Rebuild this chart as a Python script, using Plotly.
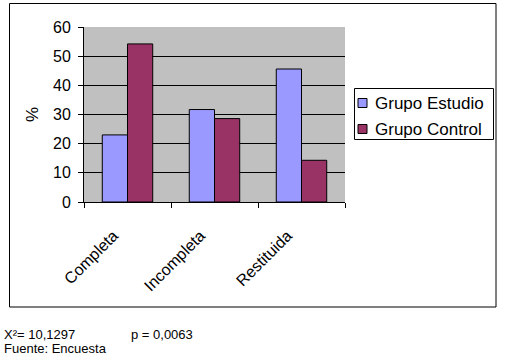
import plotly.graph_objects as go

categories = ["Completa", "Incompleta", "Restituida"]
grupo_estudio = [23.0, 31.7, 45.6]
grupo_control = [54.2, 28.6, 14.3]
series_names = ["Grupo Estudio", "Grupo Control"]
series_colors = ["#9999FF", "#993366"]
y_ticks = [0, 10, 20, 30, 40, 50, 60]

FONT = "Liberation Sans, Arial, sans-serif"

fig = go.Figure()
for name, vals, col in zip(series_names, [grupo_estudio, grupo_control], series_colors):
    fig.add_trace(go.Bar(x=categories, y=vals, name=name, showlegend=False,
                         marker=dict(color=col, line=dict(color="black", width=1))))

L, R, T, B = 84, 345, 27, 202
W, H = 505, 357
pw, ph = R - L, B - T

def px(x):
    return (x - L) / pw

def py(y):
    return (B - y) / ph

fig.update_layout(
    width=W, height=H,
    margin=dict(l=L, r=W - R, t=T, b=H - B, autoexpand=False),
    paper_bgcolor="white", plot_bgcolor="#C0C0C0",
    font=dict(family=FONT, size=16, color="black"),
    barmode="group", bargap=0.42, bargroupgap=0.0,
    xaxis=dict(showgrid=False, showline=True, linecolor="black", linewidth=1,
               ticks="outside", ticklen=5, tickcolor="black", tickson="boundaries",
               tickangle=-45, tickfont=dict(size=16, family=FONT),
               ticklabelstandoff=17, ticklabelshift=-14),
    yaxis=dict(range=[0, 60], tickvals=y_ticks, showgrid=True, gridcolor="black",
               gridwidth=1, showline=True, linecolor="black", linewidth=1,
               ticks="outside", ticklen=5, tickcolor="black", zeroline=False,
               tickfont=dict(size=16, family=FONT), ticklabelstandoff=4,
               title=dict(text="%", font=dict(size=17, family=FONT), standoff=10)),
)

# outer chart border
fig.add_shape(type="rect", xref="paper", yref="paper",
              x0=px(9.5), x1=px(496), y0=py(307), y1=py(3.5),
              line=dict(color="black", width=1), fillcolor="rgba(0,0,0,0)", layer="below")

# legend box
fig.add_shape(type="rect", xref="paper", yref="paper",
              x0=px(354.5), x1=px(493.5), y0=py(139.5), y1=py(88.5),
              line=dict(color="black", width=1), fillcolor="white")
for i, (name, col) in enumerate(zip(series_names, series_colors)):
    cy = 103 + 26 * i
    fig.add_shape(type="rect", xref="paper", yref="paper",
                  x0=px(358), x1=px(367), y0=py(cy + 4.5), y1=py(cy - 4.5),
                  line=dict(color="black", width=1), fillcolor=col)
    fig.add_annotation(xref="paper", yref="paper", x=px(373), y=py(cy), xanchor="left",
                       yanchor="middle", text=name, showarrow=False,
                       font=dict(size=17, family=FONT))

fig.add_annotation(xref="paper", yref="paper", x=px(2), y=py(334), xanchor="left", yanchor="middle",
                   text="X²= 10,1297", showarrow=False, font=dict(size=13, family=FONT))
fig.add_annotation(xref="paper", yref="paper", x=px(129), y=py(334), xanchor="left", yanchor="middle",
                   text="p = 0,0063", showarrow=False, font=dict(size=13, family=FONT))
fig.add_annotation(xref="paper", yref="paper", x=px(2), y=py(348), xanchor="left", yanchor="middle",
                   text="Fuente: Encuesta", showarrow=False, font=dict(size=13, family=FONT))

fig.write_html("out.html", config={"displayModeBar": False},
               post_script="document.body.style.margin='0';document.body.style.overflow='hidden';")
